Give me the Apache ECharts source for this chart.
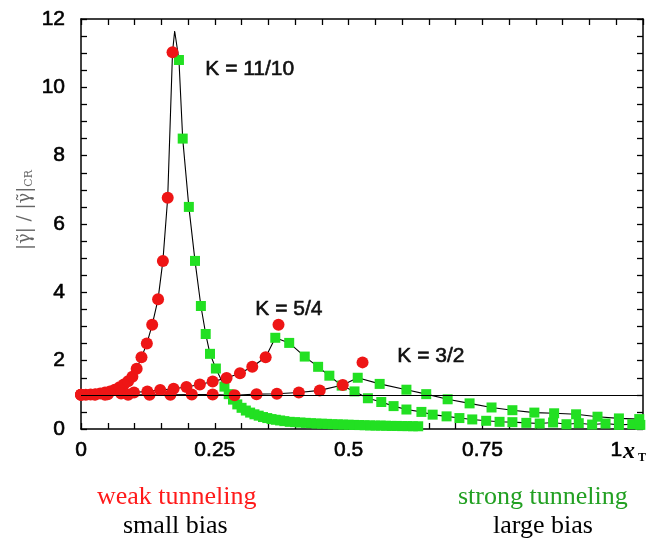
<!DOCTYPE html>
<html>
<head>
<meta charset="utf-8">
<script src="https://cdn.jsdelivr.net/npm/echarts@6/dist/echarts.min.js"></script>
<style>html,body{margin:0;padding:0;background:#fff;}#c{width:657px;height:549px;}</style>
</head>
<body>
<div id="c"></div>
<script>
// ---- data (x, y) ----
var xTickLabels = ['0', '0.25', '0.5', '0.75', '1'];
var yTickLabels = ['0', '2', '4', '6', '8', '10', '12'];
var refLevel = 1;

// K = 11/10
var red11 = [[0,1.0],[0.009,1.0],[0.018,1.01],[0.027,1.02],[0.036,1.04],[0.045,1.07],[0.054,1.1],[0.063,1.15],[0.072,1.22],[0.08,1.3],[0.088,1.4],[0.096,1.53],[0.104,1.76],[0.113,2.1],[0.123,2.5],[0.133,3.05],[0.144,3.8],[0.153,4.92],[0.162,6.77],[0.171,11.03]];
var peak11 = [0.175, 11.65];
var green11 = [[0.183,10.8],[0.19,8.5],[0.2015,6.5],[0.213,4.92],[0.224,3.6],[0.233,2.78],[0.241,2.2],[0.252,1.77],[0.268,1.24],[0.276,1.02],[0.284,0.86],[0.292,0.72],[0.300,0.62],[0.308,0.54],[0.316,0.48],[0.324,0.43],[0.332,0.39],[0.340,0.35],[0.348,0.32],[0.356,0.29],[0.364,0.27],[0.372,0.25],[0.38,0.23],[0.39,0.21],[0.40,0.2],[0.41,0.19],[0.42,0.18],[0.43,0.17],[0.44,0.16],[0.45,0.155],[0.46,0.15],[0.47,0.14],[0.48,0.135],[0.49,0.13],[0.50,0.125],[0.51,0.12],[0.52,0.115],[0.53,0.11],[0.54,0.105],[0.55,0.1],[0.56,0.1],[0.57,0.095],[0.58,0.09],[0.59,0.09],[0.60,0.085],[0.61,0.085],[0.62,0.08],[0.63,0.08]];

// K = 5/4
var red54 = [[0,1.0],[0.026,1.0],[0.05,1.02],[0.075,1.04],[0.099,1.07],[0.124,1.1],[0.148,1.14],[0.173,1.18],[0.197,1.23],[0.222,1.3],[0.246,1.39],[0.272,1.49],[0.297,1.63],[0.32,1.82],[0.345,2.1],[0.369,3.05]];
var green54 = [[0.363,2.67],[0.389,2.52],[0.418,2.12],[0.443,1.82],[0.464,1.56],[0.487,1.27],[0.511,1.1],[0.536,0.9],[0.561,0.79],[0.584,0.67],[0.608,0.57],[0.636,0.5],[0.657,0.42],[0.683,0.37],[0.707,0.32],[0.731,0.28],[0.757,0.24],[0.782,0.21],[0.806,0.2],[0.832,0.18],[0.857,0.16],[0.882,0.19],[0.907,0.14],[0.93,0.17],[0.955,0.13],[0.98,0.16],[1.005,0.12],[1.03,0.14],[1.045,0.12]];

// K = 3/2
var red32 = [[0,1.0],[0.045,1.0],[0.088,1.0],[0.128,1.0],[0.167,1.0],[0.207,1.01],[0.246,1.01],[0.287,0.99],[0.328,1.02],[0.366,1.03],[0.407,1.07],[0.446,1.13],[0.489,1.29],[0.526,1.95]];
var green32 = [[0.517,1.5],[0.558,1.32],[0.608,1.15],[0.645,1.02],[0.685,0.87],[0.726,0.75],[0.767,0.63],[0.806,0.55],[0.847,0.48],[0.884,0.46],[0.925,0.43],[0.965,0.36],[1.005,0.31],[1.043,0.29]];

// ---- build ----
function byX(a, b) { return a[0] - b[0]; }
var line11 = red11.concat([peak11]).concat(green11).sort(byX);
var line54 = red54.slice(0, -1).concat(green54).sort(byX);
var line32 = red32.slice(0, -1).concat(green32).sort(byX);

var RED = '#ee1515', GREEN = '#22e022';
var tickStyle = { show: true, inside: true, length: 6, lineStyle: { color: '#000', width: 1.3 } };
var lineAx = { show: true, onZero: false, lineStyle: { color: '#000', width: 1.5 } };
var SANS = '"Liberation Sans", Arial, sans-serif';
var SERIF = '"Liberation Serif", "Times New Roman", serif';

function near(v, step) { return Math.abs(v - step * Math.round(v / step)) < 1e-6; }

var chart = echarts.init(document.getElementById('c'), null, { renderer: 'canvas' });
var lineSeries = function (d) {
  return { type: 'line', data: d, showSymbol: false, symbol: 'none', z: 1, silent: true,
           lineStyle: { color: '#000', width: 1.1 } };
};
var kText = function (txt, l, t) {
  return { type: 'text', left: l, top: t, style: { text: txt, font: '21px ' + SANS, fill: '#111', stroke: '#111', lineWidth: 0.6 } };
};
chart.setOption({
  animation: false,
  backgroundColor: '#fff',
  grid: { left: 81, right: 14, top: 19, bottom: 120, containLabel: false },
  xAxis: [
    { type: 'value', min: 0, max: 1.05, interval: 0.05, position: 'bottom',
      axisLine: lineAx, axisTick: tickStyle, splitLine: { show: false },
      axisLabel: { show: true, margin: 11, color: '#000', fontSize: 21, fontFamily: SANS, textBorderColor: '#000', textBorderWidth: 0.6,
        formatter: function (v) { if (!near(v, 0.25)) return ''; var i = Math.round(v / 0.25); return xTickLabels[i] || ''; } } },
    { type: 'value', min: 0, max: 1.05, interval: 0.05, position: 'top',
      axisLine: lineAx, axisTick: tickStyle, splitLine: { show: false }, axisLabel: { show: false } }
  ],
  yAxis: [
    { type: 'value', min: 0, max: 12, interval: 0.5, position: 'left',
      axisLine: lineAx, axisTick: tickStyle, splitLine: { show: false },
      axisLabel: { show: true, margin: 16, color: '#000', fontSize: 21, fontFamily: SANS, textBorderColor: '#000', textBorderWidth: 0.6,
        formatter: function (v) { if (!near(v, 2)) return ''; var i = Math.round(v / 2); return yTickLabels[i] || ''; } } },
    { type: 'value', min: 0, max: 12, interval: 0.5, position: 'right',
      axisLine: lineAx, axisTick: tickStyle, splitLine: { show: false }, axisLabel: { show: false } }
  ],
  series: [
    { type: 'line', data: [], markLine: { silent: true, symbol: 'none', label: { show: false },
        lineStyle: { color: '#000', width: 1.1, type: 'solid' }, data: [{ yAxis: refLevel }] } },
    lineSeries(line11), lineSeries(line54), lineSeries(line32),
    { type: 'scatter', data: green11, symbol: 'rect', symbolSize: 10, itemStyle: { color: GREEN, opacity: 1 }, z: 3 },
    { type: 'scatter', data: green54, symbol: 'rect', symbolSize: 10, itemStyle: { color: GREEN, opacity: 1 }, z: 3 },
    { type: 'scatter', data: green32, symbol: 'rect', symbolSize: 10, itemStyle: { color: GREEN, opacity: 1 }, z: 3 },
    { type: 'scatter', data: red11, symbol: 'circle', symbolSize: 12, itemStyle: { color: RED, opacity: 1 }, z: 4 },
    { type: 'scatter', data: red54, symbol: 'circle', symbolSize: 12, itemStyle: { color: RED, opacity: 1 }, z: 4 },
    { type: 'scatter', data: red32, symbol: 'circle', symbolSize: 12, itemStyle: { color: RED, opacity: 1 }, z: 4 }
  ],
  graphic: [
    kText('K = 11/10', 205, 58),
    kText('K = 5/4', 255, 298),
    kText('K = 3/2', 397, 345),
    { type: 'text', left: 623, top: 440, style: { text: 'x', font: 'italic bold 24px ' + SERIF, fill: '#000' } },
    { type: 'text', left: 638, top: 452, style: { text: 'T', font: 'bold 12px ' + SERIF, fill: '#000' } },
    { type: 'text', x: 16, y: 250, rotation: Math.PI / 2,
      style: { text: '{a||γ̃| / |γ̃|}{b|CR}', fill: '#666',
        rich: { a: { fontSize: 18, fontFamily: 'DejaVu Serif, serif', fill: '#666', color: '#666' },
                b: { fontSize: 11, fontFamily: 'DejaVu Serif, serif', fill: '#666', color: '#666', verticalAlign: 'bottom', padding: [8, 0, 0, 0] } } } },
    { type: 'text', left: 97, top: 484, style: { text: 'weak tunneling', font: '26px ' + SERIF, fill: '#ff1a1a' } },
    { type: 'text', left: 123, top: 513, style: { text: 'small bias', font: '26px ' + SERIF, fill: '#000' } },
    { type: 'text', left: 458, top: 484, style: { text: 'strong tunneling', font: '26px ' + SERIF, fill: '#22a022' } },
    { type: 'text', left: 493, top: 513, style: { text: 'large bias', font: '26px ' + SERIF, fill: '#000' } }
  ]
});
</script>
</body>
</html>
